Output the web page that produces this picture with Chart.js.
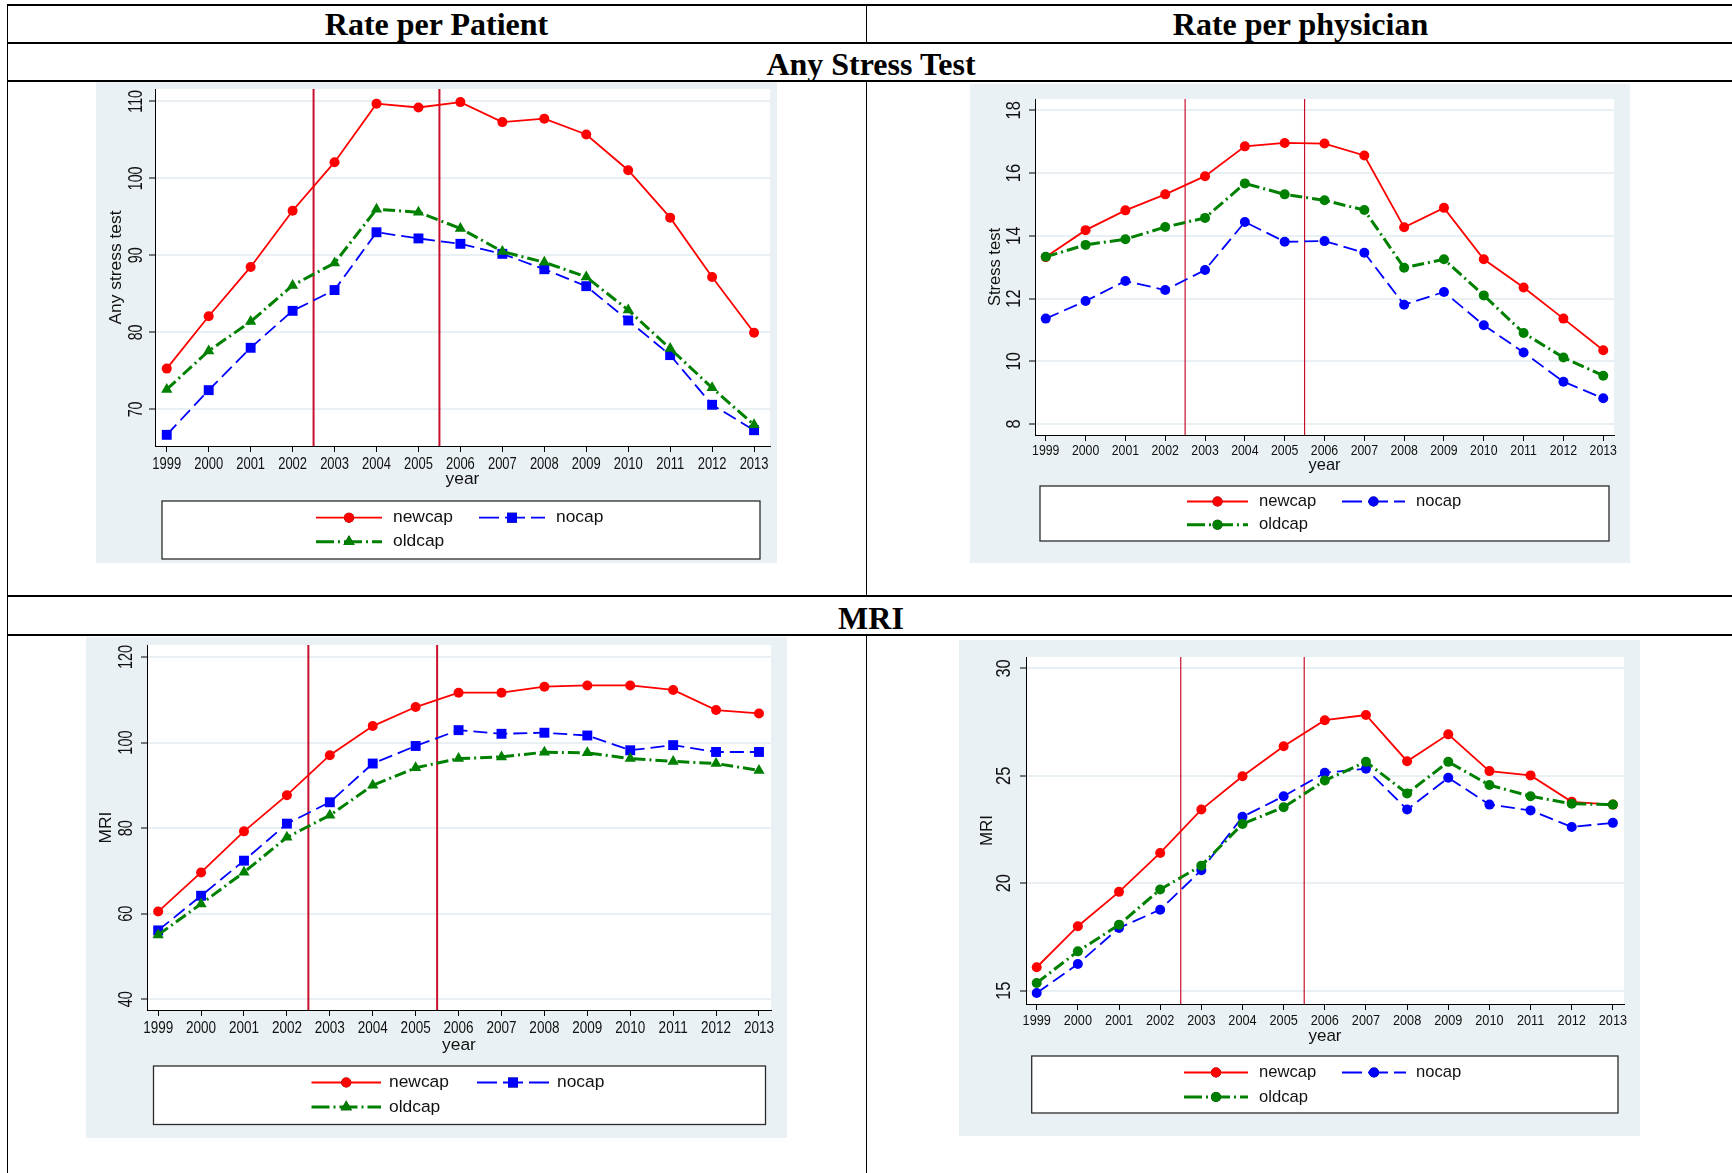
<!DOCTYPE html>
<html>
<head>
<meta charset="utf-8">
<script src="https://cdn.jsdelivr.net/npm/chart.js@4.4.0/dist/chart.umd.min.js"></script>
<style>
  body { margin: 0; background: #fff; width: 1732px; height: 1173px; overflow: hidden; position: relative; }
  .hl { position: absolute; left: 7px; width: 1730px; height: 2px; background: #000; }
  .vl { position: absolute; width: 1px; background: #000; }
  .cell { position: absolute; font-family: "Liberation Serif", "Times New Roman", serif; font-weight: bold;
          font-size: 32px; line-height: 32px; text-align: center; white-space: nowrap; color: #000; }
  .panel { position: absolute; background: #EAF1F4; }
  .panel canvas { position: absolute; left: 0; top: 0; }
</style>
</head>
<body>
<!-- table grid -->
<div class="hl" style="top:4px"></div>
<div class="hl" style="top:42px"></div>
<div class="hl" style="top:80px"></div>
<div class="hl" style="top:595px"></div>
<div class="hl" style="top:634px"></div>
<div class="vl" style="left:7px;top:4px;height:1169px"></div>
<div class="vl" style="left:866px;top:4px;height:38px"></div>
<div class="vl" style="left:866px;top:82px;height:513px"></div>
<div class="vl" style="left:866px;top:636px;height:537px"></div>

<div class="cell" style="left:7px;width:859px;top:8px">Rate per Patient</div>
<div class="cell" style="left:866px;width:869px;top:8px">Rate per physician</div>
<div class="cell" style="left:7px;width:1728px;top:48px">Any Stress Test</div>
<div class="cell" style="left:7px;width:1728px;top:602px">MRI</div>

<div class="panel" id="pTL"><canvas id="cTL"></canvas></div>
<div class="panel" id="pTR"><canvas id="cTR"></canvas></div>
<div class="panel" id="pBL"><canvas id="cBL"></canvas></div>
<div class="panel" id="pBR"><canvas id="cBR"></canvas></div>

<script>
const years = [1999, 2000, 2001, 2002, 2003, 2004, 2005, 2006, 2007, 2008, 2009, 2010, 2011, 2012, 2013];
const seriesNames = ['newcap', 'nocap', 'oldcap'];
const cutYears = [2002.5, 2005.5];

// Any stress test, rate per patient
const patStressNewcap = [75.3, 82.1, 88.5, 95.8, 102.1, 109.7, 109.2, 109.9, 107.3, 107.75, 105.7, 101.05, 94.9, 87.2, 79.95];
const patStressNocap  = [66.7, 72.5, 78.0, 82.8, 85.5, 93.0, 92.2, 91.5, 90.2, 88.2, 86.0, 81.55, 77.05, 70.6, 67.3];
const patStressOldcap = [72.6, 77.6, 81.4, 86.1, 89.0, 96.0, 95.6, 93.5, 90.5, 89.1, 87.2, 82.9, 77.9, 72.8, 68.0];
const patStressTicks  = [70, 80, 90, 100, 110];

// Stress test, rate per physician
const phyStressNewcap = [13.32, 14.18, 14.81, 15.32, 15.90, 16.85, 16.96, 16.94, 16.56, 14.27, 14.89, 13.25, 12.35, 11.36, 10.35];
const phyStressNocap  = [11.36, 11.92, 12.56, 12.27, 12.91, 14.44, 13.81, 13.83, 13.46, 11.80, 12.21, 11.15, 10.28, 9.35, 8.82];
const phyStressOldcap = [13.33, 13.71, 13.89, 14.28, 14.57, 15.67, 15.32, 15.13, 14.82, 12.98, 13.25, 12.10, 10.90, 10.12, 9.54];
const phyStressTicks  = [8, 10, 12, 14, 16, 18];

// MRI, rate per patient
const patMriNewcap = [60.5, 69.65, 79.25, 87.7, 97.05, 103.85, 108.3, 111.65, 111.65, 113.05, 113.35, 113.35, 112.3, 107.6, 106.8];
const patMriNocap  = [56.1, 64.2, 72.4, 81.05, 86.05, 95.1, 99.2, 102.9, 102.05, 102.3, 101.65, 98.2, 99.4, 97.8, 97.8];
const patMriOldcap = [55.05, 62.3, 69.7, 77.85, 83.0, 90.0, 94.1, 96.25, 96.65, 97.75, 97.6, 96.25, 95.6, 95.1, 93.5];
const patMriTicks  = [40, 60, 80, 100, 120];

// MRI, rate per physician
const phyMriNewcap = [16.09, 18.0, 19.6, 21.41, 23.43, 24.98, 26.38, 27.59, 27.83, 25.68, 26.93, 25.22, 25.02, 23.79, 23.66];
const phyMriNocap  = [14.89, 16.24, 17.92, 18.77, 20.61, 23.09, 24.05, 25.14, 25.33, 23.43, 24.91, 23.66, 23.39, 22.62, 22.81];
const phyMriOldcap = [15.36, 16.83, 18.07, 19.71, 20.82, 22.76, 23.54, 24.78, 25.65, 24.18, 25.65, 24.57, 24.05, 23.70, 23.66];
const phyMriTicks  = [15, 20, 25, 30];

const FONT = '"Liberation Sans", Arial, sans-serif';
const lineStyles = {
  newcap: { color: '#FF0000', dash: [], width: 1.8, order: 3 },
  nocap:  { color: '#0000FF', dash: [14, 6], width: 1.8, order: 2 },
  oldcap: { color: '#008000', dash: [12, 4, 2, 4], width: 3, order: 1 }
};

function drawText(ctx, text, x, y, size, opts) {
  opts = opts || {};
  ctx.save();
  ctx.translate(x, y);
  if (opts.rot) ctx.rotate(opts.rot);
  if (opts.sq) ctx.scale(opts.sq, 1);
  ctx.font = size + 'px ' + FONT;
  ctx.fillStyle = '#111';
  ctx.textAlign = opts.align || 'center';
  ctx.textBaseline = opts.baseline || 'middle';
  ctx.fillText(text, 0, 0);
  ctx.restore();
}

function drawMarker(ctx, style, x, y, r, color) {
  Chart.helpers.drawPoint(ctx, { pointStyle: style, radius: r, borderWidth: 0, rotation: 0 }, x, y);
  ctx.fillStyle = color;
  ctx.fill();
}

function makeChart(id, panelId, cfg) {
  const [bx, by, bw, bh] = cfg.panel;
  const panel = document.getElementById(panelId);
  panel.style.left = bx + 'px'; panel.style.top = by + 'px';
  panel.style.width = bw + 'px'; panel.style.height = bh + 'px';
  const canvas = document.getElementById(id);
  canvas.width = bw; canvas.height = bh;

  const [pl, pt, pr, pb] = cfg.plot;
  const xH = 8;
  const yW = pl - bx;

  const datasets = seriesNames.map((name, i) => {
    const st = lineStyles[name];
    return {
      label: name,
      data: years.map((yr, k) => ({ x: yr, y: cfg.series[i][k] })),
      borderColor: st.color,
      backgroundColor: st.color,
      borderWidth: st.width,
      borderDash: st.dash,
      pointStyle: cfg.markers[i],
      pointRadius: cfg.radii[i],
      pointBackgroundColor: st.color,
      pointBorderWidth: 0,
      tension: 0,
      fill: false,
      order: st.order
    };
  });

  const decor = {
    id: 'stataDecor',
    beforeDraw(chart) {
      const a = chart.chartArea, ctx = chart.ctx;
      ctx.save();
      ctx.fillStyle = '#fff';
      ctx.fillRect(a.left, a.top, a.right - a.left, a.bottom - a.top);
      ctx.restore();
    },
    beforeDatasetsDraw(chart) {
      const a = chart.chartArea, ctx = chart.ctx, xs = chart.scales.x;
      ctx.save();
      ctx.strokeStyle = '#C8102E';
      ctx.lineWidth = cfg.cutWidth;
      cutYears.forEach(v => {
        const px = xs.getPixelForValue(v);
        ctx.beginPath();
        ctx.moveTo(px, a.top);
        ctx.lineTo(px, a.bottom);
        ctx.stroke();
      });
      ctx.restore();
    },
    afterDraw(chart) {
      const a = chart.chartArea, ctx = chart.ctx;
      const xs = chart.scales.x, ys = chart.scales.y;
      // y tick labels (rotated)
      cfg.yTicks.forEach(v => {
        drawText(ctx, String(v), a.left - cfg.yLab.off, ys.getPixelForValue(v), cfg.yLab.fs,
          { rot: -Math.PI / 2, sq: cfg.yLab.sq });
      });
      // x tick labels
      years.forEach(v => {
        drawText(ctx, String(v), xs.getPixelForValue(v), a.bottom + cfg.xLab.base, cfg.xLab.fs,
          { sq: cfg.xLab.sq, baseline: 'alphabetic' });
      });
      // axis titles
      drawText(ctx, cfg.yTitle, cfg.yTitleX - bx, (a.top + a.bottom) / 2, cfg.titleFs, { rot: -Math.PI / 2 });
      drawText(ctx, 'year', (a.left + a.right) / 2, a.bottom + cfg.yearBase, cfg.titleFs, { baseline: 'alphabetic' });

      // legend
      const L = cfg.legend;
      const [ll, lt, lr, lb] = L.box;
      ctx.save();
      ctx.fillStyle = '#fff';
      ctx.fillRect(ll - bx, lt - by, lr - ll, lb - lt);
      ctx.strokeStyle = '#2b2b2b';
      ctx.lineWidth = 1.3;
      ctx.strokeRect(ll - bx, lt - by, lr - ll, lb - lt);
      ctx.restore();
      const slots = [[L.col1, L.rows[0]], [L.col2, L.rows[0]], [L.col1, L.rows[1]]];
      seriesNames.forEach((name, i) => {
        const st = lineStyles[name];
        const [c, ry] = slots[i];
        const y = ry - by, x1 = c[0] - bx, x2 = c[1] - bx;
        ctx.save();
        ctx.strokeStyle = st.color;
        ctx.lineWidth = st.width;
        ctx.setLineDash(name === 'nocap' ? [20, 6] : (name === 'oldcap' ? [18, 4, 2, 4] : []));
        ctx.beginPath();
        ctx.moveTo(x1, y);
        ctx.lineTo(x2, y);
        ctx.stroke();
        ctx.setLineDash([]);
        ctx.beginPath();
        drawMarker(ctx, cfg.markers[i], (x1 + x2) / 2, y, cfg.radii[i], st.color);
        ctx.restore();
        drawText(ctx, name, c[2] - bx, y, L.fs, { align: 'left' });
      });
    }
  };

  return new Chart(canvas.getContext('2d'), {
    type: 'line',
    data: { datasets },
    options: {
      responsive: false,
      animation: false,
      devicePixelRatio: 1,
      layout: { padding: { left: 0, top: pt - by, right: bx + bw - pr, bottom: by + bh - pb - xH } },
      plugins: { legend: { display: false }, tooltip: { enabled: false } },
      scales: {
        x: {
          type: 'linear',
          min: cfg.xRange[0],
          max: cfg.xRange[1],
          afterBuildTicks: s => { s.ticks = years.map(v => ({ value: v })); },
          afterFit: s => { s.height = xH; },
          ticks: { display: false },
          grid: { drawOnChartArea: false, drawTicks: true, tickLength: 6, tickColor: '#000', tickWidth: 1 },
          border: { display: true, color: '#000', width: 1 }
        },
        y: {
          type: 'linear',
          min: cfg.yRange[0],
          max: cfg.yRange[1],
          afterBuildTicks: s => { s.ticks = cfg.yTicks.map(v => ({ value: v })); },
          afterFit: s => { s.width = yW; },
          ticks: { display: false },
          grid: { color: '#E8F0F3', lineWidth: 2, drawTicks: true, tickLength: 6, tickColor: '#000', tickWidth: 1 },
          border: { display: true, color: '#000', width: 1 }
        }
      }
    },
    plugins: [decor]
  });
}

makeChart('cTL', 'pTL', {
  panel: [96, 82, 681, 481],
  plot: [155, 89, 770, 446],
  xRange: [1998.72, 2013.38],
  yRange: [65.25, 111.6],
  yTicks: patStressTicks,
  series: [patStressNewcap, patStressNocap, patStressOldcap],
  markers: ['circle', 'rect', 'triangle'],
  radii: [5, 7, 6.5],
  cutWidth: 2,
  yLab: { off: 19, fs: 21, sq: 0.68 },
  xLab: { fs: 16, sq: 0.81, base: 23 },
  yTitle: 'Any stress test', yTitleX: 116.5,
  titleFs: 17.4, yearBase: 37.7,
  legend: { box: [162, 501, 760, 559], rows: [517.7, 541.7], col1: [316, 382, 393], col2: [479, 545, 556], fs: 17.4 }
});

makeChart('cTR', 'pTR', {
  panel: [970, 84, 660, 479],
  plot: [1035, 99, 1614, 435],
  xRange: [1998.73, 2013.27],
  yRange: [7.65, 18.36],
  yTicks: phyStressTicks,
  series: [phyStressNewcap, phyStressNocap, phyStressOldcap],
  markers: ['circle', 'circle', 'circle'],
  radii: [5, 5, 5],
  cutWidth: 1.2,
  yLab: { off: 21, fs: 21, sq: 0.78 },
  xLab: { fs: 15.4, sq: 0.8, base: 20 },
  yTitle: 'Stress test', yTitleX: 995,
  titleFs: 16.5, yearBase: 34.7,
  legend: { box: [1040, 486, 1609, 541], rows: [501.5, 524.7], col1: [1187, 1248, 1259], col2: [1342, 1405, 1416], fs: 16.6 }
});

makeChart('cBL', 'pBL', {
  panel: [86, 637, 701, 501],
  plot: [147, 645, 771, 1010],
  xRange: [1998.74, 2013.28],
  yRange: [37.5, 122.8],
  yTicks: patMriTicks,
  series: [patMriNewcap, patMriNocap, patMriOldcap],
  markers: ['circle', 'rect', 'triangle'],
  radii: [5, 7, 6.5],
  cutWidth: 2,
  yLab: { off: 21, fs: 21, sq: 0.69 },
  xLab: { fs: 16.3, sq: 0.83, base: 23.3 },
  yTitle: 'MRI', yTitleX: 106,
  titleFs: 17.4, yearBase: 39.5,
  legend: { box: [153.5, 1066, 765.5, 1124.5], rows: [1082.5, 1107], col1: [311.5, 381, 389], col2: [477, 549, 557], fs: 17.4 }
});

makeChart('cBR', 'pBR', {
  panel: [959, 640, 681, 496],
  plot: [1026, 657, 1624, 1004],
  xRange: [1998.74, 2013.27],
  yRange: [14.38, 30.53],
  yTicks: phyMriTicks,
  series: [phyMriNewcap, phyMriNocap, phyMriOldcap],
  markers: ['circle', 'circle', 'circle'],
  radii: [5, 5, 5],
  cutWidth: 1.2,
  yLab: { off: 21.7, fs: 20, sq: 0.82 },
  xLab: { fs: 15.5, sq: 0.82, base: 21.3 },
  yTitle: 'MRI', yTitleX: 987,
  titleFs: 17, yearBase: 36.5,
  legend: { box: [1031.7, 1056, 1618, 1113], rows: [1072.5, 1097], col1: [1184, 1248, 1259], col2: [1342, 1406, 1416], fs: 16.6 }
});
</script>
</body>
</html>
